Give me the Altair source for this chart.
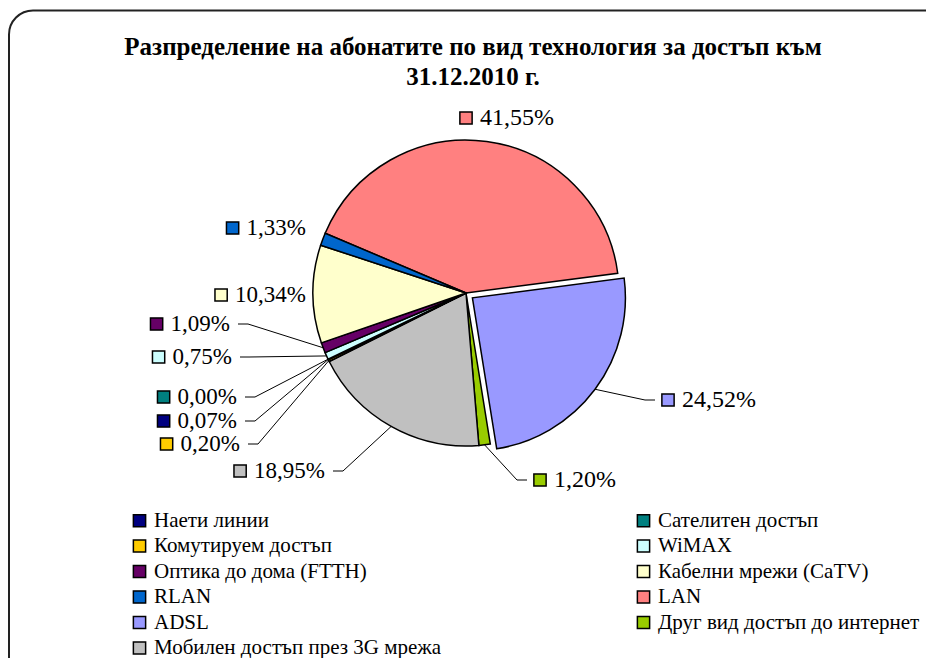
import math
import altair as alt
import pandas as pd

# ---------------- data ----------------
TITLE_LINES = ["Разпределение на абонатите по вид технология за достъп към", "31.12.2010 г."]

# slices in clockwise order, starting with LAN
categories = [
    "LAN",
    "ADSL",
    "Друг вид достъп до интернет",
    "Мобилен достъп през 3G мрежа",
    "Комутируем достъп",
    "Наети линии",
    "Сателитен достъп",
    "WiMAX",
    "Оптика до дома (FTTH)",
    "Кабелни мрежи (CaTV)",
    "RLAN",
]
values = [41.55, 24.52, 1.20, 18.95, 0.20, 0.07, 0.00, 0.75, 1.09, 10.34, 1.33]

# legend entries, filled column by column (left column first)
legend_order = [
    "Наети линии",
    "Комутируем достъп",
    "Оптика до дома (FTTH)",
    "RLAN",
    "ADSL",
    "Мобилен достъп през 3G мрежа",
    "Сателитен достъп",
    "WiMAX",
    "Кабелни мрежи (CaTV)",
    "LAN",
    "Друг вид достъп до интернет",
]
legend_colors = [
    "#000080", "#FFCC00", "#660066", "#0066CC", "#9999FF", "#C0C0C0",
    "#008080", "#CCFFFF", "#FFFFCC", "#FF8080", "#99CC00",
]

# ---------------- layout ----------------
W, H = 918, 650
CX, CY = 458, 285
R = 153
START_RAD = math.radians(293)
EXPLODE = {"ADSL": 8}
FS = 23
FONT = "Liberation Serif, Times New Roman, serif"
# label anchor (end of leader line) relative to pie centre, side of text, leader line on/off
LABEL_LAYOUT = {
    "LAN": (-13, -175, "R", False),
    "ADSL": (189, 107, "R", True),
    "Друг вид достъп до интернет": (61, 187, "R", True),
    "Мобилен достъп през 3G мрежа": (-133, 178, "L", True),
    "Комутируем достъп": (-218, 151, "L", True),
    "Наети линии": (-221, 128, "L", True),
    "Сателитен достъп": (-221, 104, "L", True),
    "WiMAX": (-226, 64, "L", True),
    "Оптика до дома (FTTH)": (-228, 31, "L", True),
    "Кабелни мрежи (CaTV)": (-152, 2, "L", False),
    "RLAN": (-152, -65, "L", False),
}

labels = [f"{v:.2f}".replace(".", ",") + "%" for v in values]
df = pd.DataFrame({
    "idx": list(range(len(categories))),
    "cat": categories,
    "value": values,
    "label": labels,
    "ex": [EXPLODE.get(c, 0) for c in categories],
    "ldx": [LABEL_LAYOUT[c][0] for c in categories],
    "ldy": [LABEL_LAYOUT[c][1] for c in categories],
    "side": [LABEL_LAYOUT[c][2] for c in categories],
    "lead": [LABEL_LAYOUT[c][3] for c in categories],
})

base = alt.Chart(df).transform_window(
    cum="sum(value)", sort=[alt.SortField("idx")], frame=[None, 0]
).transform_calculate(
    s0="datum.cum - datum.value",
    mid=f"{START_RAD} + (datum.cum - datum.value / 2) / 100 * 2 * PI",
    acx=f"{CX} + datum.ex * sin(datum.mid)",
    acy=f"{CY} - datum.ex * cos(datum.mid)",
    ecx=f"datum.acx + {R} * sin(datum.mid)",
    ecy=f"datum.acy - {R} * cos(datum.mid)",
    ax=f"{CX} + datum.ldx",
    ay=f"{CY} + datum.ldy",
    elx="datum.side == 'L' ? datum.ax + 10 : datum.ax - 10",
    tw=f"((length(datum.label) - 2) * 0.5 + 1.083) * {FS}",
    tx="datum.side == 'L' ? datum.ax - 8 : datum.ax + 27",
    bx="datum.side == 'L' ? datum.ax - 8 - datum.tw - 14 : datum.ax + 13",
)

color_scale = alt.Scale(domain=legend_order, range=legend_colors)

pie = base.mark_arc(radius=R, stroke="black", strokeWidth=1.5).encode(
    theta=alt.Theta("s0:Q", scale=alt.Scale(domain=[0, 100], range=[START_RAD, START_RAD + 2 * math.pi]), stack=None),
    theta2="cum:Q",
    x=alt.X("acx:Q", scale=None, axis=None),
    y=alt.Y("acy:Q", scale=None, axis=None),
    color=alt.Color(
        "cat:N",
        scale=color_scale,
        legend=alt.Legend(
            orient="none", legendX=121, legendY=502, columns=2, columnPadding=191,
            rowPadding=3.5, title=None, symbolType="square", symbolSize=150,
            symbolStrokeColor="black", symbolStrokeWidth=1.5, labelFont=FONT,
            labelFontSize=21, labelColor="black", labelLimit=0, labelOffset=4, padding=0,
        ),
    ),
)

lead_diag = base.transform_filter("datum.lead").mark_rule(color="black", strokeWidth=1).encode(
    x=alt.X("ecx:Q", scale=None, axis=None),
    y=alt.Y("ecy:Q", scale=None, axis=None),
    x2="elx:Q",
    y2="ay:Q",
)
lead_tail = base.transform_filter("datum.lead").mark_rule(color="black", strokeWidth=1).encode(
    x=alt.X("elx:Q", scale=None, axis=None),
    y=alt.Y("ay:Q", scale=None, axis=None),
    x2="ax:Q",
)

boxes = base.mark_square(size=150, filled=True, stroke="black", strokeWidth=1.5, opacity=1).encode(
    x=alt.X("bx:Q", scale=None, axis=None),
    y=alt.Y("ay:Q", scale=None, axis=None),
    fill=alt.Fill("cat:N", scale=color_scale, legend=None),
)

text_l = base.transform_filter("datum.side == 'L'").mark_text(
    align="right", baseline="middle", font=FONT, fontSize=FS, color="black"
).encode(
    x=alt.X("tx:Q", scale=None, axis=None),
    y=alt.Y("ay:Q", scale=None, axis=None),
    text="label:N",
)
text_r = base.transform_filter("datum.side == 'R'").mark_text(
    align="left", baseline="middle", font=FONT, fontSize=FS + 1, color="black"
).encode(
    x=alt.X("tx:Q", scale=None, axis=None),
    y=alt.Y("ay:Q", scale=None, axis=None),
    text="label:N",
)

title_df = pd.DataFrame({"t": TITLE_LINES, "line": [0, 1]})
title = alt.Chart(title_df).transform_calculate(
    ty="39 + datum.line * 30"
).mark_text(
    align="center", baseline="middle", font=FONT, fontSize=25, fontWeight="bold", color="black"
).encode(
    x=alt.value(CX + 7),
    y=alt.Y("ty:Q", scale=None, axis=None),
    text="t:N",
)

frame = alt.Chart(pd.DataFrame({"f": [0]})).mark_rect(
    fill="transparent", stroke="#222222", strokeWidth=2, cornerRadius=24
).encode(
    x=alt.value(1), x2=alt.value(940), y=alt.value(2.5), y2=alt.value(740)
)

chart = alt.layer(frame, pie, lead_diag, lead_tail, boxes, text_l, text_r, title).properties(
    width=W, height=H, autosize=alt.AutoSizeParams(type="none"), padding=0, background="white"
).configure_view(strokeWidth=0)

chart.save("out.html", embed_options={"renderer": "svg", "actions": False})
